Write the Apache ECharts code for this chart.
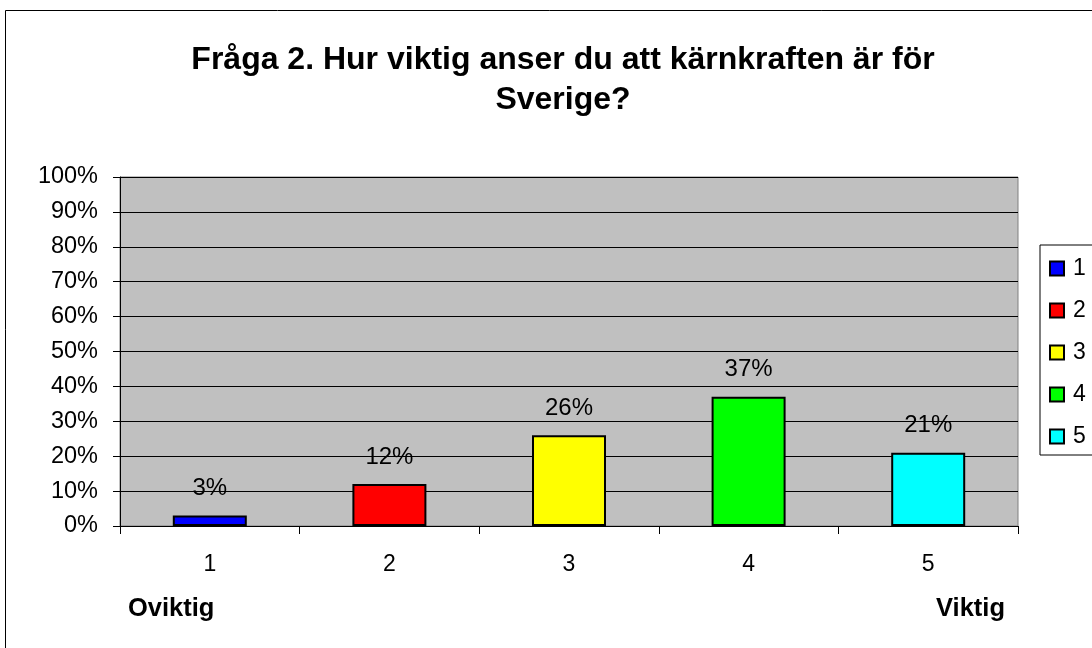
<!DOCTYPE html>
<html>
<head>
<meta charset="utf-8">
<script src="https://cdn.jsdelivr.net/npm/echarts@6/dist/echarts.min.js"></script>
<style>
  html, body { margin: 0; padding: 0; background: #fff; }
  #chart { width: 1092px; height: 648px; }
</style>
</head>
<body>
<div id="chart"></div>
<script>
// svarsalternativ 1..5 och andel i procent
var categories = ['1', '2', '3', '4', '5'];
var percents = [3, 12, 26, 37, 21];
var colors = ['#0000FF', '#FF0000', '#FFFF00', '#00FF00', '#00FFFF'];
var yTicks = [0, 10, 20, 30, 40, 50, 60, 70, 80, 90, 100];

var font = 'Liberation Sans, Arial, sans-serif';

// en serie per kategori, staplade så att stapeln hamnar mitt i kategorin
var series = categories.map(function (name, i) {
    return {
        name: name,
        type: 'bar',
        stack: 'all',
        barWidth: 74,
        data: categories.map(function (c, j) { return j === i ? percents[i] : '-'; }),
        itemStyle: { color: colors[i], borderColor: '#000', borderWidth: 2 },
        label: {
            show: true,
            position: 'top',
            distance: 15,
            formatter: '{c}%',
            color: '#000',
            fontFamily: font,
            fontSize: 24
        }
    };
});

var chart = echarts.init(document.getElementById('chart'));
var option = {
    backgroundColor: '#fff',
    animation: false,
    title: {
        text: 'Fråga 2. Hur viktig anser du att kärnkraften är för\nSverige?',
        left: 558,
        textAlign: 'center',
        top: 35,
        textStyle: { fontFamily: font, fontSize: 32, fontWeight: 'bold', color: '#000', lineHeight: 40 }
    },
    grid: { left: 120, right: 74, top: 177, bottom: 122, backgroundColor: '#C0C0C0', show: true, borderColor: '#808080', borderWidth: 1 },
    legend: {
        orient: 'vertical',
        left: 1040,
        top: 245,
        padding: [12, 7, 7, 9],
        itemGap: 19,
        itemWidth: 14,
        itemHeight: 14,
        icon: 'rect',
        borderColor: '#000',
        borderWidth: 1,
        backgroundColor: '#fff',
        data: categories,
        itemStyle: { borderColor: '#000', borderWidth: 2 },
        textStyle: { fontFamily: font, fontSize: 23, color: '#000', padding: [0, 0, 0, 4] }
    },
    xAxis: {
        type: 'category',
        data: categories,
        axisLine: { lineStyle: { color: '#000', width: 1 } },
        axisTick: { show: true, length: 8, lineStyle: { color: '#000' } },
        axisLabel: { color: '#000', fontFamily: font, fontSize: 23, margin: 27 }
    },
    yAxis: {
        type: 'value',
        min: 0,
        max: 100,
        interval: 10,
        axisLine: { show: true, lineStyle: { color: '#000', width: 1 } },
        axisTick: { show: true, length: 7, lineStyle: { color: '#000' } },
        splitLine: { lineStyle: { color: '#000', width: 1 } },
        axisLabel: {
            color: '#000', fontFamily: font, fontSize: 23.5, margin: 22,
            formatter: function (v) { return yTicks.indexOf(v) >= 0 ? v + '%' : ''; }
        }
    },
    series: series,
    graphic: [
        {
            type: 'rect',
            shape: { x: 5.5, y: 10.5, width: 1200, height: 800 },
            style: { fill: null, stroke: '#000', lineWidth: 1 },
            silent: true
        },
        {
            type: 'text',
            left: 128,
            top: 596,
            style: { text: 'Oviktig', fontFamily: font, fontSize: 25.5, fontWeight: 'bold', fill: '#000' }
        },
        {
            type: 'text',
            left: 936,
            top: 596,
            style: { text: 'Viktig', fontFamily: font, fontSize: 25.5, fontWeight: 'bold', fill: '#000' }
        }
    ]
};
chart.setOption(option);
</script>
</body>
</html>
